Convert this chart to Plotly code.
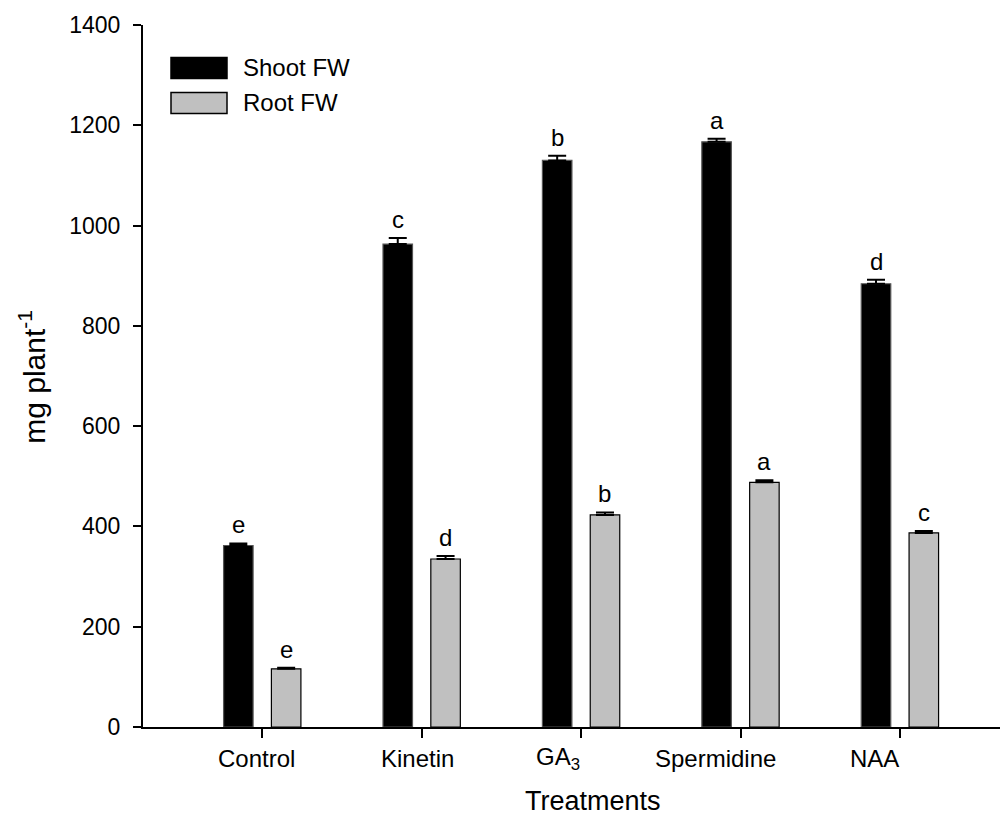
import plotly.graph_objects as go

categories = ["Control", "Kinetin", "GA<sub>3</sub>", "Spermidine", "NAA"]
shoot_fw = [362, 963, 1130, 1167, 884]
shoot_err = [4, 12, 9, 6, 8]
shoot_letters = ["e", "c", "b", "a", "d"]
root_fw = [116, 335, 423, 488, 387]
root_err = [2, 6, 5, 4, 4]
root_letters = ["e", "d", "b", "a", "c"]
series_names = ["Shoot FW", "Root FW"]
y_ticks = [0, 200, 400, 600, 800, 1000, 1200, 1400]

# style: horizontal pixel shift of each category label relative to its tick
label_shift_px = [-6, -4, -23, -25, -25]

FONT = "Liberation Sans, Arial, sans-serif"
colors = ["#000000", "#C0C0C0"]
line_colors = ["#555555", "#000000"]

# plot area in figure pixels
L, T, PW, PH = 135, 17, 865, 702.5
W, H = 1000, 812

fig = go.Figure()
for name, vals, errs, col, lc in [
    (series_names[0], shoot_fw, shoot_err, colors[0], line_colors[0]),
    (series_names[1], root_fw, root_err, colors[1], line_colors[1]),
]:
    fig.add_trace(go.Bar(
        name=name, x=categories, y=vals,
        marker=dict(color=col, line=dict(color=lc, width=1.2)),
        error_y=dict(type="data", symmetric=False, array=errs,
                     arrayminus=[0] * len(errs), color="#000000",
                     thickness=2, width=9),
        showlegend=False,
    ))

offset = 0.15
annotations = []
for i, cat in enumerate(categories):
    for sgn, vals, errs, letters in [(-1, shoot_fw, shoot_err, shoot_letters),
                                     (1, root_fw, root_err, root_letters)]:
        annotations.append(dict(
            x=i + sgn * offset, y=vals[i] + errs[i], xref="x", yref="y",
            text=letters[i], showarrow=False, yanchor="bottom", yshift=3,
            font=dict(family=FONT, size=24, color="#000000"),
        ))
    # category labels
    annotations.append(dict(
        x=i, y=0, xref="x", yref="paper", text=cat, showarrow=False,
        xanchor="center", yanchor="middle", yshift=-31,
        xshift=label_shift_px[i],
        font=dict(family=FONT, size=24, color="#000000"),
    ))

# manual legend (page-pixel layout relative to plot area)
legend_y = [68, 103]
shapes = []
for k, name in enumerate(series_names):
    shapes.append(dict(type="rect", xref="paper", yref="paper",
                       x0=(171 - 143) / PW, x1=(227 - 143) / PW,
                       y0=1 - (legend_y[k] + 10.5 - 25) / PH,
                       y1=1 - (legend_y[k] - 10.5 - 25) / PH,
                       fillcolor=colors[k], line=dict(color="#000000", width=1.5)))
    annotations.append(dict(x=(241 - 143) / PW, y=1 - (legend_y[k] - 25) / PH,
                            xref="paper", yref="paper", text=name, showarrow=False,
                            xanchor="left", yanchor="middle",
                            font=dict(family=FONT, size=24, color="#000000")))

# axis titles
annotations.append(dict(x=(593 - 143) / PW, y=0, xref="paper", yref="paper",
                        text="Treatments", showarrow=False, xanchor="center",
                        yanchor="middle", yshift=-74,
                        font=dict(family=FONT, size=27, color="#000000")))
annotations.append(dict(x=0, y=1 - (377 - 25) / PH, xref="paper", yref="paper",
                        text="mg plant<sup>-1</sup>", showarrow=False,
                        textangle=-90, xanchor="center", yanchor="middle",
                        xshift=-(143 - 32),
                        font=dict(family=FONT, size=30, color="#000000")))

fig.update_layout(
    width=W, height=H,
    margin=dict(l=L, r=W - L - PW, t=T, b=H - T - PH, pad=0),
    paper_bgcolor="white", plot_bgcolor="white",
    barmode="group", bargap=0.4, bargroupgap=0.383,
    font=dict(family=FONT, color="#000000"),
    annotations=annotations, shapes=shapes,
    xaxis=dict(range=[-0.748, 4.678], showline=True, linecolor="#000000",
               linewidth=2, ticks="outside", ticklen=9, tickwidth=2,
               tickcolor="#000000", showticklabels=False,
               showgrid=False, zeroline=False),
    yaxis=dict(range=[0, 1400], tickvals=y_ticks, showline=True,
               linecolor="#000000", linewidth=2, ticks="outside", ticklen=8,
               tickwidth=2, tickcolor="#000000",
               tickfont=dict(size=23, family=FONT), showgrid=False,
               zeroline=False, ticklabelstandoff=8),
)

fig.write_html("out.html")
